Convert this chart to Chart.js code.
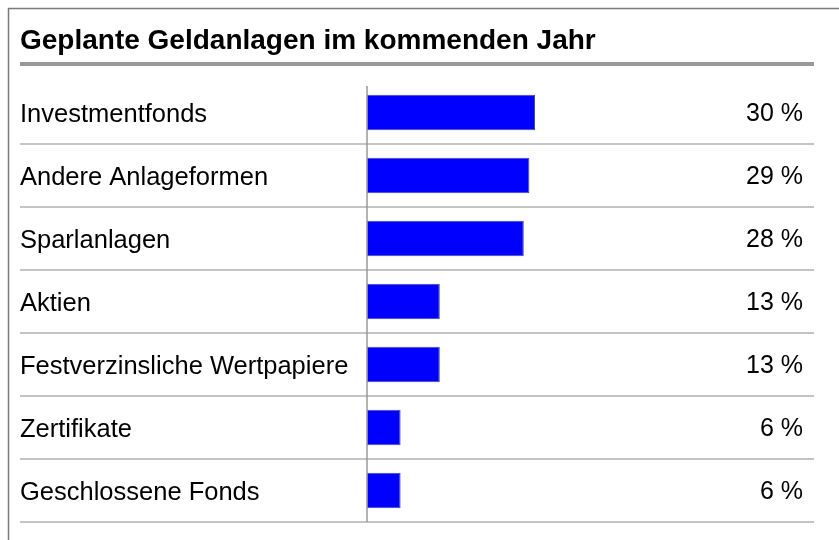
<!DOCTYPE html>
<html>
<head>
<meta charset="utf-8">
<script src="https://cdn.jsdelivr.net/npm/chart.js@4/dist/chart.umd.min.js"></script>
<style>
  body { margin: 0; background: #fff; }
  #wrap { width: 839px; height: 540px; }
</style>
</head>
<body>
<div id="wrap"><canvas id="chart" width="839" height="540"></canvas></div>
<script>
const title = 'Geplante Geldanlagen im kommenden Jahr'
const categories = ['Investmentfonds', 'Andere Anlageformen', 'Sparlanlagen', 'Aktien', 'Festverzinsliche Wertpapiere', 'Zertifikate', 'Geschlossene Fonds']
const shares = [30, 29, 28, 13, 13, 6, 6]
const shareLabels = shares.map(v => v + ' %')

const fontFamily = '"Liberation Sans", Arial, sans-serif'

// frame, title rule, row separators and the zero line
const decor = {
  id: 'decor',
  beforeDraw(chart) {
    const c = chart.ctx
    c.save()
    c.fillStyle = '#fff'
    c.fillRect(0, 0, chart.width, chart.height)
    c.strokeStyle = '#7a7a7a'
    c.lineWidth = 1.5
    c.beginPath()
    c.moveTo(8.5, chart.height)
    c.lineTo(8.5, 8.5)
    c.lineTo(chart.width, 8.5)
    c.stroke()
    c.fillStyle = '#999'
    c.fillRect(20, 62, 794, 4)
    c.restore()
  },
  beforeDatasetsDraw(chart) {
    const c = chart.ctx
    const y = chart.scales.y
    const step = (y.bottom - y.top) / categories.length
    c.save()
    c.fillStyle = '#c4c4c4'
    categories.forEach((_, i) => {
      const py = Math.round(y.getPixelForValue(i) + step / 2)
      c.fillRect(20, py - 1, 794, 2)
    })
    c.restore()
  },
  afterDatasetsDraw(chart) {
    const c = chart.ctx
    const x0 = chart.scales.x.getPixelForValue(0)
    c.save()
    c.strokeStyle = '#999'
    c.lineWidth = 1.5
    c.beginPath()
    c.moveTo(x0, 86)
    c.lineTo(x0, chart.scales.y.bottom)
    c.stroke()
    c.restore()
  }
}

new Chart(document.getElementById('chart'), {
  type: 'bar',
  data: {
    labels: categories,
    datasets: [{
      data: shares,
      backgroundColor: '#0000ff',
      borderColor: '#4646b4',
      borderWidth: 1,
      borderSkipped: false,
      barPercentage: 0.56,
      categoryPercentage: 1
    }]
  },
  options: {
    indexAxis: 'y',
    responsive: false,
    animation: false,
    layout: { padding: { left: 20, right: 36, top: 0, bottom: 18 } },
    plugins: {
      legend: { display: false },
      tooltip: { enabled: false },
      title: {
        display: true,
        text: title,
        align: 'start',
        color: '#000',
        font: { family: fontFamily, size: 28, weight: 'bold' },
        padding: { top: 24, bottom: 23.4 }
      }
    },
    scales: {
      x: { display: false, min: 0, max: 60 },
      y: {
        position: 'left',
        grid: { display: false },
        border: { display: false },
        ticks: { crossAlign: 'far', labelOffset: 2, color: '#000', font: { family: fontFamily, size: 25.5 } },
        afterFit: s => { s.width = 347; s.paddingTop = 0; s.paddingBottom = 0 }
      },
      y2: {
        type: 'category',
        labels: shareLabels,
        position: 'right',
        offset: true,
        grid: { display: false },
        border: { display: false },
        ticks: { crossAlign: 'far', labelOffset: 2, color: '#000', font: { family: fontFamily, size: 25 } },
        afterFit: s => { s.width = 100; s.paddingTop = 0; s.paddingBottom = 0 }
      }
    }
  },
  plugins: [decor]
})
</script>
</body>
</html>
